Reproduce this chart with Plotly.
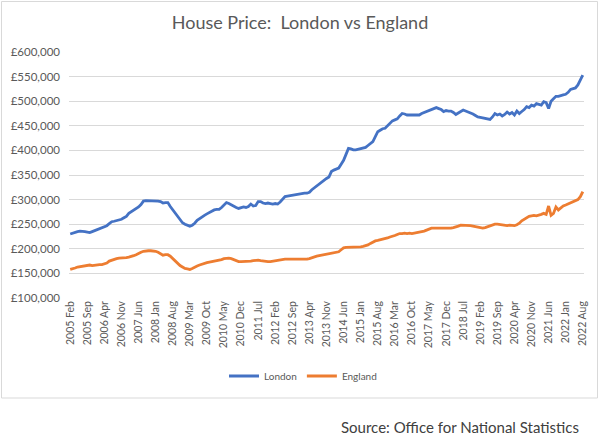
import plotly.graph_objects as go

# Monthly series, Feb 2005 .. Aug 2022 (values in £ thousands)
london_k = [
    230, 232, 234, 235, 236, 236, 235, 234, 233, 235, 237, 238,
    240, 242, 244, 247, 251, 255, 256, 257, 258, 260, 263, 266,
    272, 275, 278, 282, 285, 290, 297, 298, 298, 298, 298, 298,
    297, 296, 293, 294, 294, 286, 279, 272, 265, 258, 253, 250,
    248, 246, 248, 252, 258, 262, 265, 268, 271, 274, 276, 279,
    280, 280, 284, 290, 294, 292, 289, 286, 284, 282, 283, 285,
    284, 286, 291, 287, 288, 296, 296, 293, 292, 293, 292, 291,
    292, 291, 295, 300, 306, 307, 308, 309, 310, 311, 311, 312,
    313, 313, 315, 320, 324, 328, 332, 336, 340, 343, 346, 357,
    360, 362, 364, 372, 380, 392, 404, 403, 401, 401, 402, 403,
    405, 406, 410, 414, 418, 428, 438, 441, 444, 445, 450, 455,
    460, 462, 464, 470, 475, 474, 472, 472, 472, 472, 473, 472,
    475, 477, 479, 481, 482, 485, 487, 485, 483, 479, 481, 480,
    480, 477, 473, 476, 479, 482, 480, 478, 477, 474, 471, 468,
    467, 466, 465, 464, 463, 468, 475, 472, 474, 470, 473, 478,
    474, 477, 472, 480, 475, 479, 483, 489, 487, 492, 490, 495,
    493, 492, 499, 497, 485, 500, 505, 510, 510, 512, 513, 514,
    518, 524, 525, 527, 533, 543, 553,
]
england_k = [
    158, 159, 161, 163, 164, 165, 166, 166, 167, 166, 167, 168,
    168, 168, 169, 171, 175, 177, 178, 180, 181, 181, 182, 182,
    183, 184, 186, 188, 191, 193, 195, 196, 196, 196, 196, 195,
    193, 190, 187, 188, 188, 185, 180, 177, 172, 166, 163, 160,
    159, 158, 160, 163, 165, 167, 169, 171, 172, 173, 174, 174,
    175, 177, 178, 180, 181, 181, 180, 178, 175, 174, 174, 174,
    174, 174, 175, 176, 177, 177, 176, 175, 174, 174, 174, 175,
    176, 177, 178, 179, 179, 179, 179, 178, 178, 178, 178, 178,
    178, 179, 180, 182, 184, 185, 186, 187, 187, 188, 189, 190,
    191, 192, 194, 198, 202, 203, 203, 203, 204, 204, 204, 204,
    205, 206, 208, 211, 214, 216, 217, 218, 219, 221, 222, 224,
    225, 227, 229, 231, 231, 232, 231, 232, 231, 232, 232, 233,
    234, 236, 238, 240, 242, 242, 242, 241, 241, 241, 241, 241,
    242, 243, 244, 246, 248, 248, 248, 247, 247, 246, 245, 243,
    242, 242, 243, 245, 247, 249, 250, 250, 249, 248, 247, 247,
    248, 247, 247, 249, 252, 257, 260, 263, 266, 267, 268, 267,
    268, 270, 272, 270, 287, 268, 272, 285, 279, 283, 287, 289,
    291, 293, 295, 298, 300, 306, 316,
]
london = [v * 1000 for v in london_k]
england = [v * 1000 for v in england_k]

month_names = ["Jan", "Feb", "Mar", "Apr", "May", "Jun",
               "Jul", "Aug", "Sep", "Oct", "Nov", "Dec"]
start_year, start_month = 2005, 2
categories = []
for i in range(len(london)):
    m = start_month - 1 + i
    categories.append(f"{start_year + m // 12} {month_names[m % 12]}")

tick_step = 7
tick_idx = list(range(0, len(categories), tick_step))
tick_labels = [categories[i] for i in tick_idx]
x_idx = list(range(len(categories)))

font_family = "Lato, 'Open Sans', sans-serif"
grey = "#595959"

fig = go.Figure()
fig.add_trace(go.Scatter(x=x_idx, y=london, mode="lines", name="London",
                         line=dict(color="#4472C4", width=2.8),
                         customdata=categories, hovertemplate="%{customdata}: £%{y:,}"))
fig.add_trace(go.Scatter(x=x_idx, y=england, mode="lines", name="England",
                         line=dict(color="#ED7D31", width=2.8),
                         customdata=categories, hovertemplate="%{customdata}: £%{y:,}"))

L, R, T, B = 69, 16, 52, 145
W, H = 600, 443
pw, ph = W - L - R, H - T - B

def px_x(px):
    return (px - L) / pw

def px_y(py):
    return (H - B - py) / ph

fig.update_layout(
    width=W, height=H,
    margin=dict(l=L, r=R, t=T, b=B, autoexpand=False),
    paper_bgcolor="white", plot_bgcolor="white",
    font=dict(family=font_family, color=grey),
    title=dict(text="House Price:  London vs England",
               x=0.5, xref="container", xanchor="center",
               y=1 - 23 / H, yref="container", yanchor="middle",
               font=dict(size=18, color=grey, family=font_family)),
    showlegend=True,
    legend=dict(orientation="h", xref="container", x=0.505, xanchor="center",
                yref="container", y=1 - 376 / H, yanchor="middle",
                font=dict(size=10, color=grey), itemwidth=30,
                bgcolor="rgba(0,0,0,0)"),
    xaxis=dict(range=[-0.5, len(categories) - 0.5], tickmode="array",
               tickvals=tick_idx, ticktext=tick_labels, tickangle=-90,
               showgrid=False, zeroline=False, showline=False, ticks="",
               automargin=False,
               tickfont=dict(size=10.5, color=grey), fixedrange=True),
    yaxis=dict(range=[100000, 600000], dtick=50000, tickprefix="£",
               tickformat=",d", showgrid=True, gridcolor="#d9d9d9",
               gridwidth=1, zeroline=False, showline=False, ticks="",
               ticklabelstandoff=8, automargin=False,
               tickfont=dict(size=11.5, color=grey), fixedrange=True),
    shapes=[dict(type="rect", xref="paper", yref="paper",
                 x0=px_x(1.5), x1=px_x(597.5), y0=px_y(398), y1=px_y(1.5),
                 line=dict(color="#d9d9d9", width=1), layer="below")],
    annotations=[dict(text="Source: Office for National Statistics",
                      xref="paper", yref="paper", x=px_x(581), y=px_y(427),
                      xanchor="right", yanchor="middle", showarrow=False,
                      font=dict(size=15, color="#404040", family=font_family))],
)

fig.write_html("out.html", config={"displayModeBar": False},
               post_script="document.body.style.margin='0';document.body.style.padding='0';")
